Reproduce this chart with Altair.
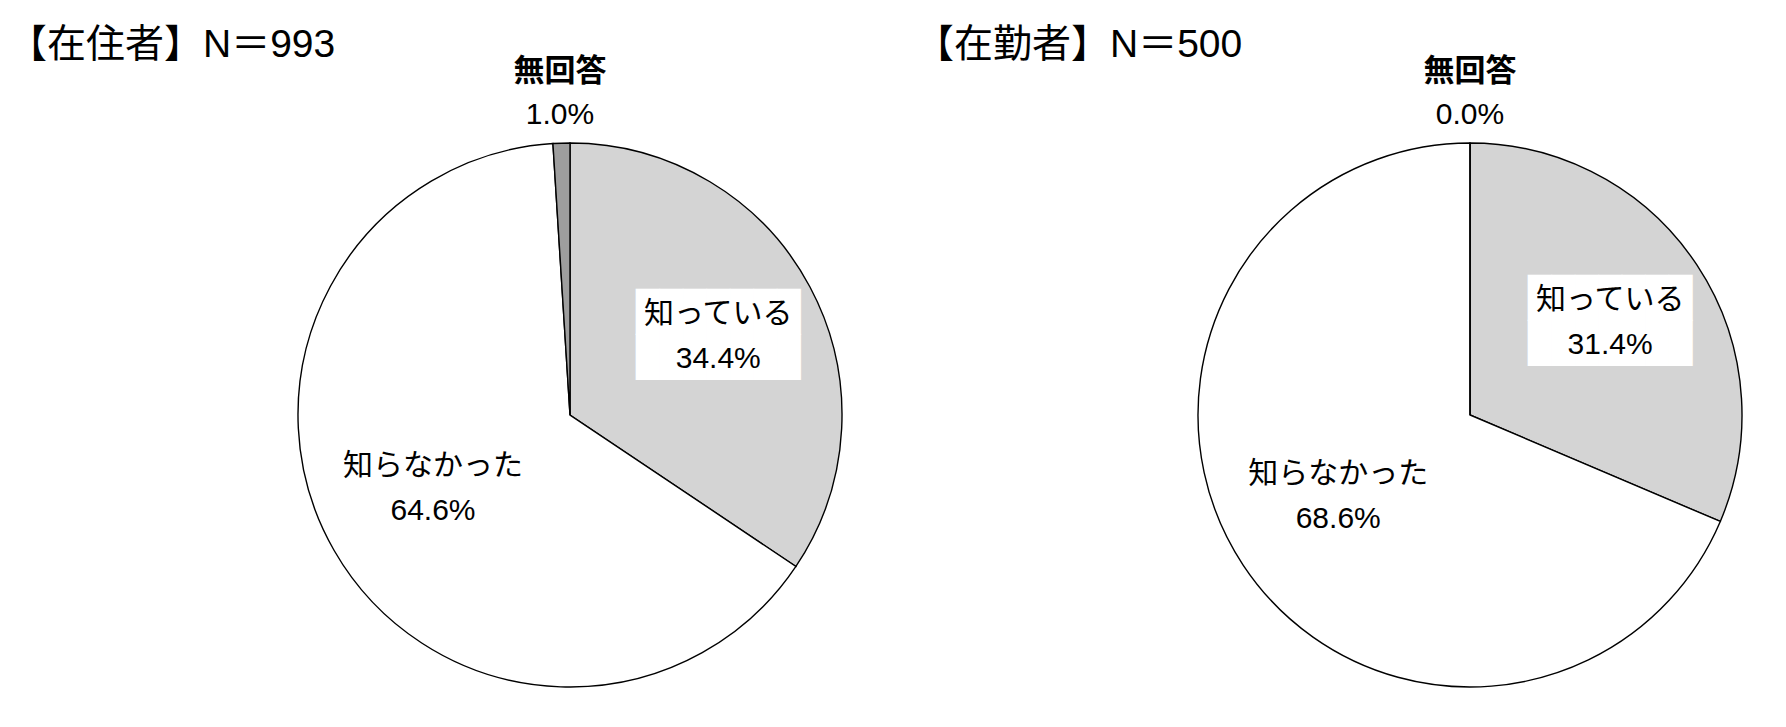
import altair as alt
import pandas as pd

# ---- data ----
groups = ["在住者", "在勤者"]
titles = ["【在住者】N＝993", "【在勤者】N＝500"]
categories = ["知っている", "知らなかった", "無回答"]
resident = [34.4, 64.6, 1.0]
worker = [31.4, 68.6, 0.0]

rows = []
for g, vals in zip(groups, [resident, worker]):
    for i, (c, v) in enumerate(zip(categories, vals)):
        rows.append({"group": g, "category": c, "value": v, "order": i, "pct": f"{v:.1f}%"})
df = pd.DataFrame(rows)
title_df = pd.DataFrame({"group": groups, "title": titles})

# ---- styling ----
CJK = "Noto Sans CJK JP"
NUM = "Liberation Sans Narrow, Arial Narrow, Liberation Sans, Noto Sans CJK JP"
TITLE_FONT = "Liberation Sans, Noto Sans CJK JP"
CY = 407
R = 272

xenc = alt.X("group:N", scale=alt.Scale(type="point", domain=groups, range=[562, 1462], padding=0), axis=None)
theta_scale = alt.Scale(domain=[0, 100])

base = alt.Chart(df).transform_stack(
    stack="value", groupby=["group"], as_=["v0", "v1"],
    sort=[alt.SortField(field="order", order="ascending")]
).transform_calculate(mid="(datum.v0 + datum.v1) / 2")

arcs = base.mark_arc(outerRadius=R, stroke="black", strokeWidth=1.4).encode(
    x=xenc, y=alt.value(CY),
    theta=alt.Theta("v0:Q", scale=theta_scale, stack=False),
    theta2="v1:Q",
    fill=alt.Color("category:N",
                   scale=alt.Scale(domain=categories, range=["#d4d4d4", "#ffffff", "#9e9e9e"]),
                   legend=None),
)


def label(cat, field, radius, dy, size, font, weight="normal"):
    return base.transform_filter(alt.datum.category == cat).mark_text(
        radius=radius, dy=dy, fontSize=size, font=font, fontWeight=weight,
        align="center", baseline="middle", color="black"
    ).encode(
        x=xenc, y=alt.value(CY),
        theta=alt.Theta("mid:Q", scale=theta_scale, stack=False),
        text=field,
    )


box = base.transform_filter(alt.datum.category == "知っている").mark_text(
    radius=168, dy=-23, text="███████\n███████", lineBreak="\n", fontSize=39, lineHeight=45,
    font="DejaVu Sans Mono", color="white", align="center", baseline="middle"
).encode(x=xenc, y=alt.value(CY), theta=alt.Theta("mid:Q", scale=theta_scale, stack=False))

labels = [
    box,
    label("知っている", "category:N", 168, -22, 30, CJK),
    label("知っている", "pct:N", 168, 23, 30, NUM),
    label("知らなかった", "category:N", 158, -28, 30, CJK),
    label("知らなかった", "pct:N", 158, 17, 30, NUM),
    label("無回答", "category:N", 321, -22, 31, CJK, "bold"),
    label("無回答", "pct:N", 321, 21, 30, NUM),
]


def title_layer(g, dx):
    return alt.Chart(title_df).transform_filter(alt.datum.group == g).mark_text(
        align="left", baseline="middle", fontSize=39, font=TITLE_FONT, dx=dx, color="black"
    ).encode(x=xenc, y=alt.value(37), text="title:N")


chart = alt.layer(
    arcs, *labels, title_layer("在住者", -562), title_layer("在勤者", -555)
).properties(
    width=1765, height=700, autosize=alt.AutoSizeParams(type="none"), padding=0,
    background="white"
).configure_view(stroke=None)

chart.save("out.html", embed_options={"renderer": "svg", "actions": False})
